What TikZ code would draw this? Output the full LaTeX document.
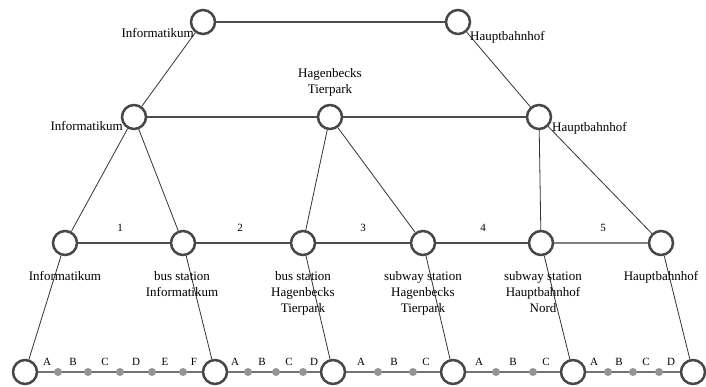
\documentclass[tikz,border=0pt]{standalone}
\usepackage{fontspec}
\setmainfont{Liberation Serif}
\begin{document}
\begin{tikzpicture}[x=1pt,y=-1pt,
  stn/.style={circle,draw=black!72,line width=2.5pt,fill=white,minimum size=24pt,inner sep=0pt},
  dotn/.style={circle,fill=black!42,minimum size=8pt,inner sep=0pt},
  thick line/.style={draw=black!70,line width=2pt},
  thin line/.style={draw=black!80,line width=0.8pt},
  bot line/.style={draw=black!55,line width=2.6pt},
  lbl/.style={font=\fontsize{13}{16}\selectfont,inner sep=1pt},
  sl/.style={font=\fontsize{11}{13}\selectfont,inner sep=0pt},
  bl/.style={font=\fontsize{13}{16}\selectfont,align=center,anchor=north,inner sep=0pt}]
\useasboundingbox (0,0) rectangle (706,387);
% top level
\node[stn] (t1) at (203,22) {};
\node[stn] (t2) at (458,22) {};
% second level
\node[stn] (m1) at (134,117) {};
\node[stn] (m2) at (330,117) {};
\node[stn] (m3) at (539,117) {};
% third level
\node[stn] (s1) at (65,243) {};
\node[stn] (s2) at (183,243) {};
\node[stn] (s3) at (303,243) {};
\node[stn] (s4) at (423,243) {};
\node[stn] (s5) at (541,243) {};
\node[stn] (s6) at (661,243) {};
% bottom level
\node[stn] (b1) at (25,372) {};
\node[stn] (b2) at (215,372) {};
\node[stn] (b3) at (333,372) {};
\node[stn] (b4) at (453,372) {};
\node[stn] (b5) at (573,372) {};
\node[stn] (b6) at (693,372) {};
% connectors
\draw[thick line] (t1) -- (t2);
\draw[thin line] (t1) -- (m1);
\draw[thin line] (t2) -- (m3);
\draw[thick line] (m1) -- (m2);
\draw[thick line] (m2) -- (m3);
\draw[thin line] (m1) -- (s1);
\draw[thin line] (m1) -- (s2);
\draw[thin line] (m2) -- (s3);
\draw[thin line] (m2) -- (s4);
\draw[thin line] (m3) -- (s5);
\draw[thin line] (m3) -- (s6);
\draw[thick line] (s1) -- (s2);
\draw[thick line] (s2) -- (s3);
\draw[thick line] (s3) -- (s4);
\draw[thick line] (s4) -- (s5);
\draw[thick line,draw=black!50] (s5) -- (s6);
\draw[thin line] (s1) -- (b1);
\draw[thin line] (s2) -- (b2);
\draw[thin line] (s3) -- (b3);
\draw[thin line] (s4) -- (b4);
\draw[thin line] (s5) -- (b5);
\draw[thin line] (s6) -- (b6);
\draw[bot line] (b1) -- (b2);
\draw[bot line] (b2) -- (b3);
\draw[bot line] (b3) -- (b4);
\draw[bot line] (b4) -- (b5);
\draw[bot line] (b5) -- (b6);
% dots on bottom line
\foreach \x/\n in {58/a1,88/a2,120/a3,152/a4,183/a5,248/c1,276/c2,303/c3,378/e1,413/e2,496/f1,533/f2,608/g1,633/g2,659/g3}
  \node[dotn] (\n) at (\x,372) {};
% bottom letters
\foreach \x/\t in {47/A,73/B,105/C,136/D,165/E,194/F,235/A,262/B,289/C,314/D,361/A,394/B,426/C,479/A,513/B,546/C,594/A,619/B,646/C,671/D}
  \node[sl] at (\x,362) {\t};
% edge numbers
\node[sl] (n1) at (120,228) {1};
\node[sl] (n2) at (240,228) {2};
\node[sl] (n3) at (363,228) {3};
\node[sl] (n4) at (483,228) {4};
\node[sl] (n5) at (603,228) {5};
% labels
\node[lbl,anchor=east] (lt1) at (195,33) {Informatikum};
\node[lbl,anchor=west] (lt2) at (469,37) {Hauptbahnhof};
\node[lbl,anchor=east] (lm1) at (124,126) {Informatikum};
\node[lbl,align=center] (lm2) at (330,82) {Hagenbecks\\Tierpark};
\node[lbl,anchor=west] (lm3) at (551,128) {Hauptbahnhof};
\node[bl] (ls1) at (65,271) {Informatikum};
\node[bl] (ls2) at (182,271) {bus station\\Informatikum};
\node[bl] (ls3) at (303,271) {bus station\\Hagenbecks\\Tierpark};
\node[bl] (ls4) at (423,271) {subway station\\Hagenbecks\\Tierpark};
\node[bl] (ls5) at (543,271) {subway station\\Hauptbahnhof\\Nord};
\node[bl] (ls6) at (661,271) {Hauptbahnhof};
\end{tikzpicture}
\end{document}
